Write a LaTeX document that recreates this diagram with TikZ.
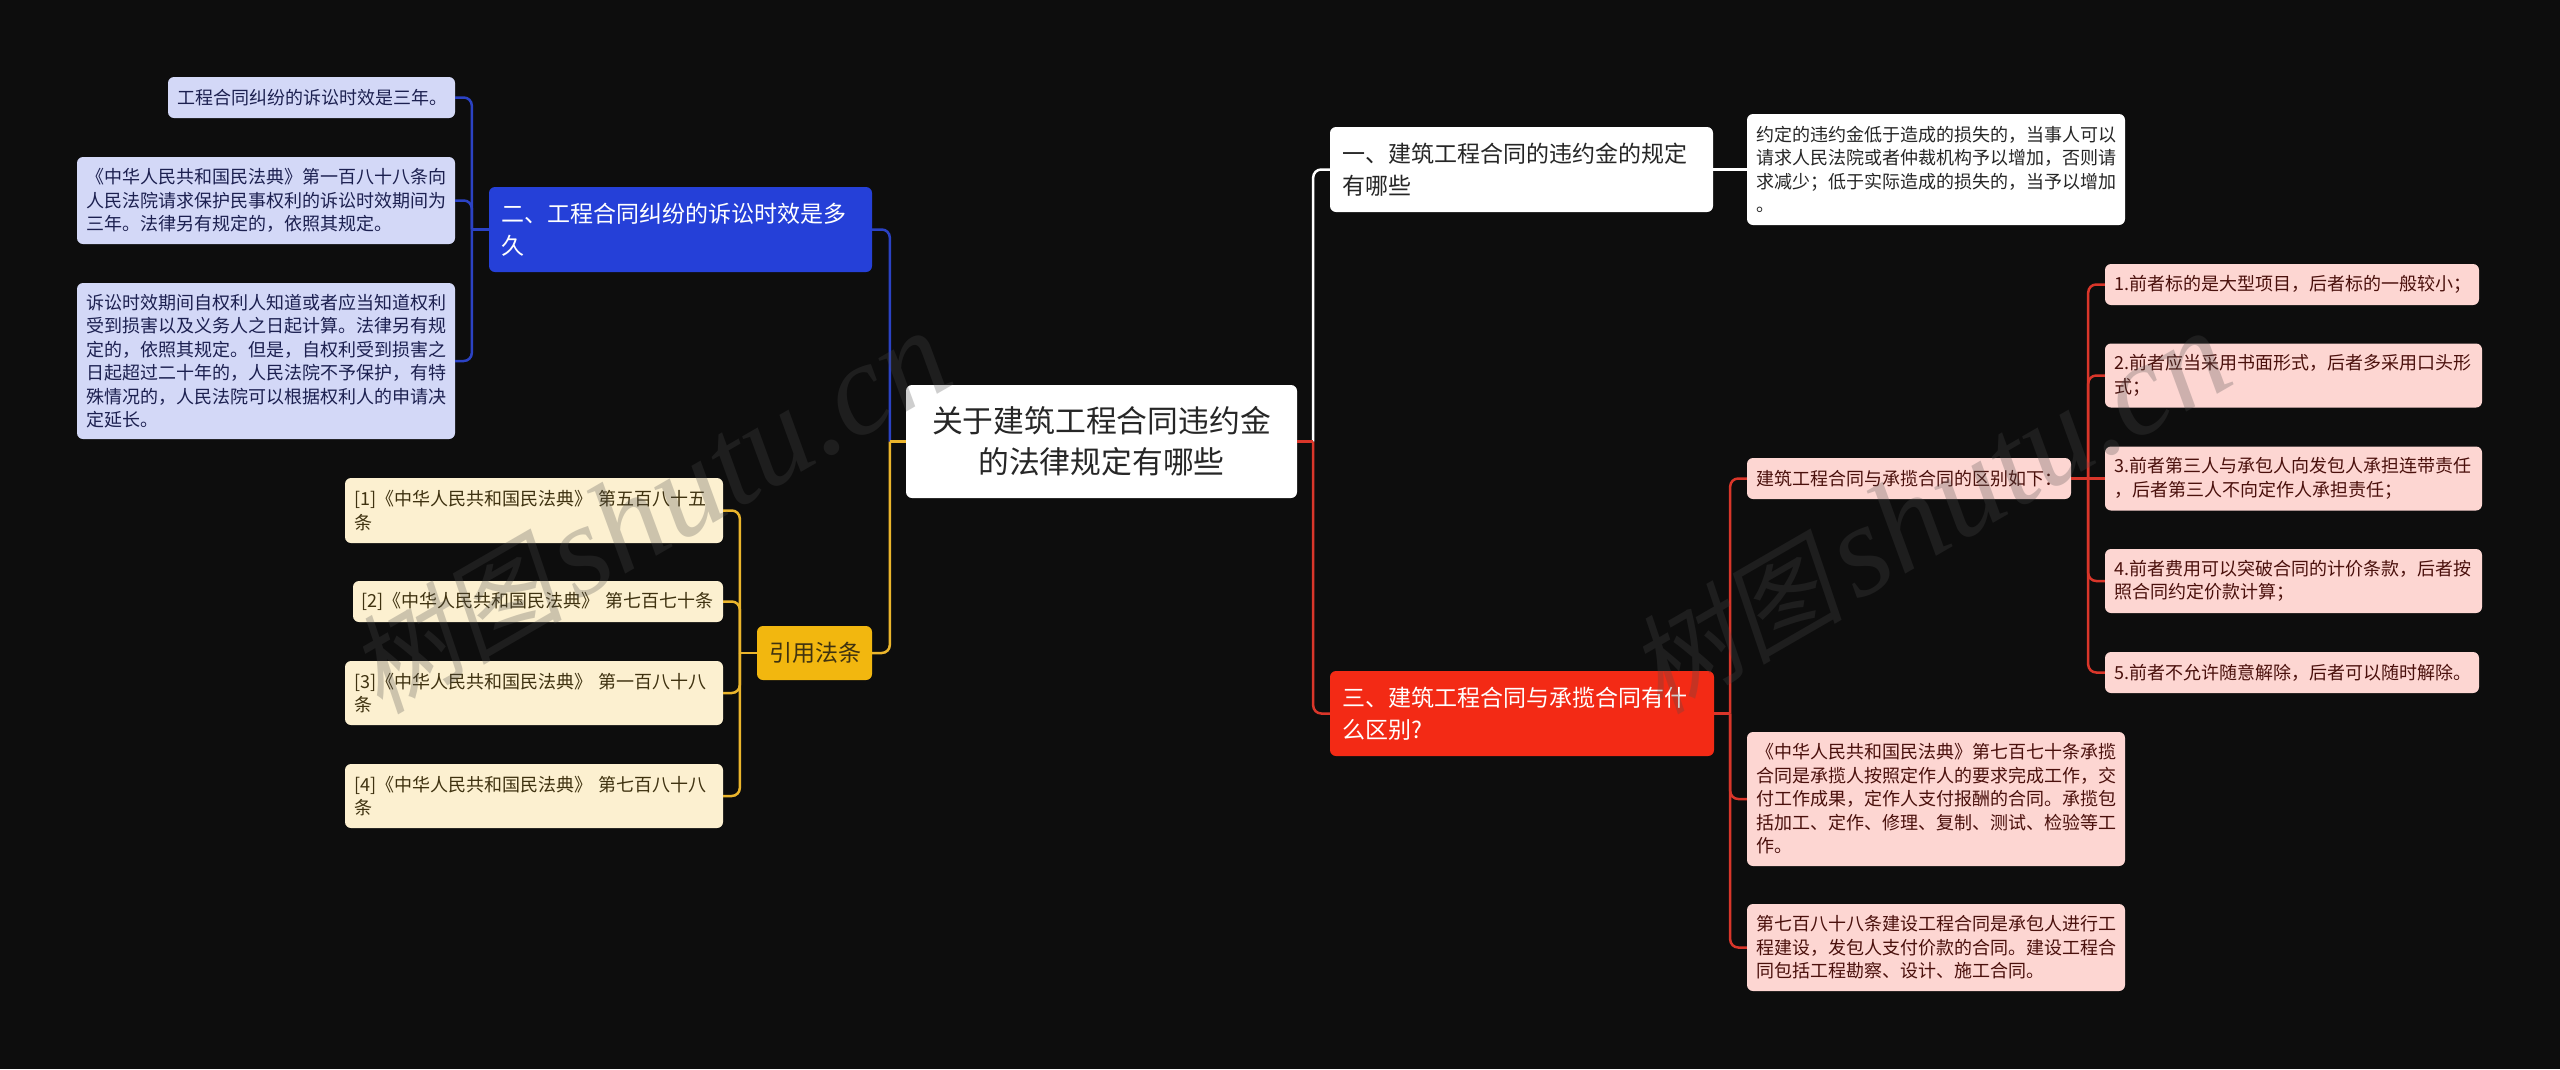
\documentclass[tikz,border=0pt]{standalone}
\usepackage{fontspec}
\setmainfont{Noto Sans CJK SC}
\newfontfamily\wmcjk[FakeSlant=0.2]{Noto Sans CJK SC}
\newfontfamily\wmlat{Liberation Serif}
\usetikzlibrary{positioning}
\definecolor{pagebg}{HTML}{0D0D0D}
\definecolor{bluedk}{HTML}{2540D8}
\definecolor{bluelt}{HTML}{D3D8F7}
\definecolor{bluetx}{HTML}{1C2050}
\definecolor{bluelnk}{HTML}{2B42C4}
\definecolor{reddk}{HTML}{F32A15}
\definecolor{redlt}{HTML}{FDD6D2}
\definecolor{redtx}{HTML}{4A100C}
\definecolor{redlnk}{HTML}{D9362A}
\definecolor{yeldk}{HTML}{F2B70F}
\definecolor{yellt}{HTML}{FCF0D0}
\definecolor{yeltx}{HTML}{3F3210}
\definecolor{yellnk}{HTML}{EBB52C}
\definecolor{wmgray}{HTML}{4C4C4C}
\newcommand{\wmtext}{{\wmcjk\fontsize{108}{108}\selectfont 树图}\hspace{12pt}{\wmlat\itshape shutu.cn}}
\tikzset{card/.style={rounded corners=6pt,inner xsep=9pt,inner ysep=0pt,align=left,font=\fontsize{18}{23.5}\selectfont},
  leafb/.style={card,fill=bluelt,text=bluetx},
  leafy/.style={card,fill=yellt,text=yeltx},
  leafr/.style={card,fill=redlt,text=redtx},
  leafw/.style={card,fill=white,text=black!85},
  topic/.style={rounded corners=6pt,inner xsep=12pt,inner ysep=0pt,align=left,font=\fontsize{23}{32}\selectfont},
  lnk/.style={line width=2.5pt,rounded corners=8pt},
  wmark/.style={rotate=30,text=wmgray,text opacity=.27,font=\fontsize{131}{131}\selectfont}}

\begin{document}
\begin{tikzpicture}[x=1pt,y=-1pt]
\fill[pagebg] (0,0) rectangle (2560,1069);
\useasboundingbox (0,0) rectangle (2560,1069);

\node[rounded corners=6pt,fill=white,text=black!85,align=center,text width=391pt,inner xsep=0pt,inner ysep=0pt,
  minimum height=113pt,font=\fontsize{30.8}{41}\selectfont] (root) at (1101.5,441.5)
  {关于建筑工程合同违约金\\的法律规定有哪些};

\node[topic,fill=bluedk,text=white,text width=359pt,minimum height=85pt] (blue) at (680.5,229.5)
  {二、工程合同纠纷的诉讼时效是多\\久};
\node[leafb,text width=269pt,minimum height=41pt] (bone) at (311.5,97.5)
  {工程合同纠纷的诉讼时效是三年。};
\node[leafb,text width=360pt,minimum height=87pt] (btwo) at (266,200.5)
  {《中华人民共和国民法典》第一百八十八条向\\人民法院请求保护民事权利的诉讼时效期间为\\三年。法律另有规定的，依照其规定。};
\node[leafb,text width=360pt,minimum height=156pt] (bthree) at (266,361)
  {诉讼时效期间自权利人知道或者应当知道权利\\受到损害以及义务人之日起计算。法律另有规\\定的，依照其规定。但是，自权利受到损害之\\日起超过二十年的，人民法院不予保护，有特\\殊情况的，人民法院可以根据权利人的申请决\\定延长。};

\node[topic,fill=yeldk,text=yeltx,align=center,text width=91pt,minimum height=54pt] (yel) at (814.5,653) {引用法条};
\node[leafy,text width=360pt,minimum height=65pt] (yone) at (534,510.5)
  {[1]《中华人民共和国民法典》 第五百八十五\\条};
\node[leafy,inner xsep=8pt,text width=354pt,minimum height=41pt] (ytwo) at (538,601.5)
  {\mbox{[2]《中华人民共和国民法典》 第七百七十条}};
\node[leafy,text width=360pt,minimum height=64pt] (ythree) at (534,693)
  {[3]《中华人民共和国民法典》 第一百八十八\\条};
\node[leafy,text width=360pt,minimum height=64pt] (yfour) at (534,796)
  {[4]《中华人民共和国民法典》 第七百八十八\\条};

\node[topic,fill=white,text=black!85,text width=359pt,minimum height=85pt] (wht) at (1521.5,169.5)
  {一、建筑工程合同的违约金的规定\\有哪些};
\node[leafw,text width=360pt,minimum height=111pt] (whtleaf) at (1936,169.5)
  {约定的违约金低于造成的损失的，当事人可以\\请求人民法院或者仲裁机构予以增加，否则请\\求减少；低于实际造成的损失的，当予以增加\\。};

\node[topic,fill=reddk,text=white,text width=360pt,minimum height=85pt] (red) at (1522,713.5)
  {三、建筑工程合同与承揽合同有什\\么区别?};
\node[leafr,text width=306pt,minimum height=41pt] (rone) at (1909,478.5)
  {建筑工程合同与承揽合同的区别如下：};
\node[leafr,text width=360pt,minimum height=134pt] (rtwo) at (1936,799)
  {《中华人民共和国民法典》第七百七十条承揽\\合同是承揽人按照定作人的要求完成工作，交\\付工作成果，定作人支付报酬的合同。承揽包\\括加工、定作、修理、复制、测试、检验等工\\作。};
\node[leafr,text width=360pt,minimum height=87pt] (rthree) at (1936,947.5)
  {第七百八十八条建设工程合同是承包人进行工\\程建设，发包人支付价款的合同。建设工程合\\同包括工程勘察、设计、施工合同。};

\node[leafr,text width=356pt,minimum height=41pt] (gone) at (2292,284.5)
  {1.前者标的是大型项目，后者标的一般较小；};
\node[leafr,text width=359pt,minimum height=64pt] (gtwo) at (2293.5,375.5)
  {2.前者应当采用书面形式，后者多采用口头形\\式；};
\node[leafr,text width=359pt,minimum height=64pt] (gthree) at (2293.5,478.5)
  {3.前者第三人与承包人向发包人承担连带责任\\，后者第三人不向定作人承担责任；};
\node[leafr,text width=359pt,minimum height=64pt] (gfour) at (2293.5,581)
  {4.前者费用可以突破合同的计价条款，后者按\\照合同约定价款计算；};
\node[leafr,text width=356pt,minimum height=41pt] (gfive) at (2292,672.5)
  {5.前者不允许随意解除，后者可以随时解除。};

\coordinate (jl) at ([xshift=-16pt]root.west);
\coordinate (jr) at ([xshift=16pt]root.east);
\coordinate (jb) at ([xshift=-17pt]blue.west);
\coordinate (jy) at ([xshift=-17pt]yel.west);
\coordinate (jred) at ([xshift=16pt]red.east);
\coordinate (jg) at ([xshift=17pt]rone.east);

\draw[lnk,bluelnk] (blue.east) -| (jl);
\draw[lnk,yellnk] (yel.east) -| (jl);
\draw[lnk,yellnk] (jl) -- (root.west);
\draw[lnk,bluelnk] (blue.west) -- (jb);
\foreach \kid in {bone,btwo,bthree} \draw[lnk,bluelnk] (jb) |- (\kid.east);
\draw[lnk,yellnk] (yel.west) -- (jy);
\foreach \kid in {yone,ytwo,ythree,yfour} \draw[lnk,yellnk] (jy) |- (\kid.east);

\draw[lnk,white] (wht.west) -| (jr);
\draw[lnk,redlnk] (red.west) -| (jr);
\draw[lnk,redlnk] (root.east) -- (jr);
\draw[lnk,white] (wht.east) -- (whtleaf.west);
\draw[lnk,redlnk] (red.east) -- (jred);
\foreach \kid in {rone,rtwo,rthree} \draw[lnk,redlnk] (jred) |- (\kid.west);
\draw[lnk,redlnk] (rone.east) -- (jg);
\foreach \kid in {gone,gtwo,gfour,gfive} \draw[lnk,redlnk] (jg) |- (\kid.west);
\draw[lnk,redlnk] (jg) -- (gthree.west);

\node[wmark] (wmleft) at (649,513) {\wmtext};
\node[wmark] (wmright) at (1929,513) {\wmtext};
\end{tikzpicture}
\end{document}
